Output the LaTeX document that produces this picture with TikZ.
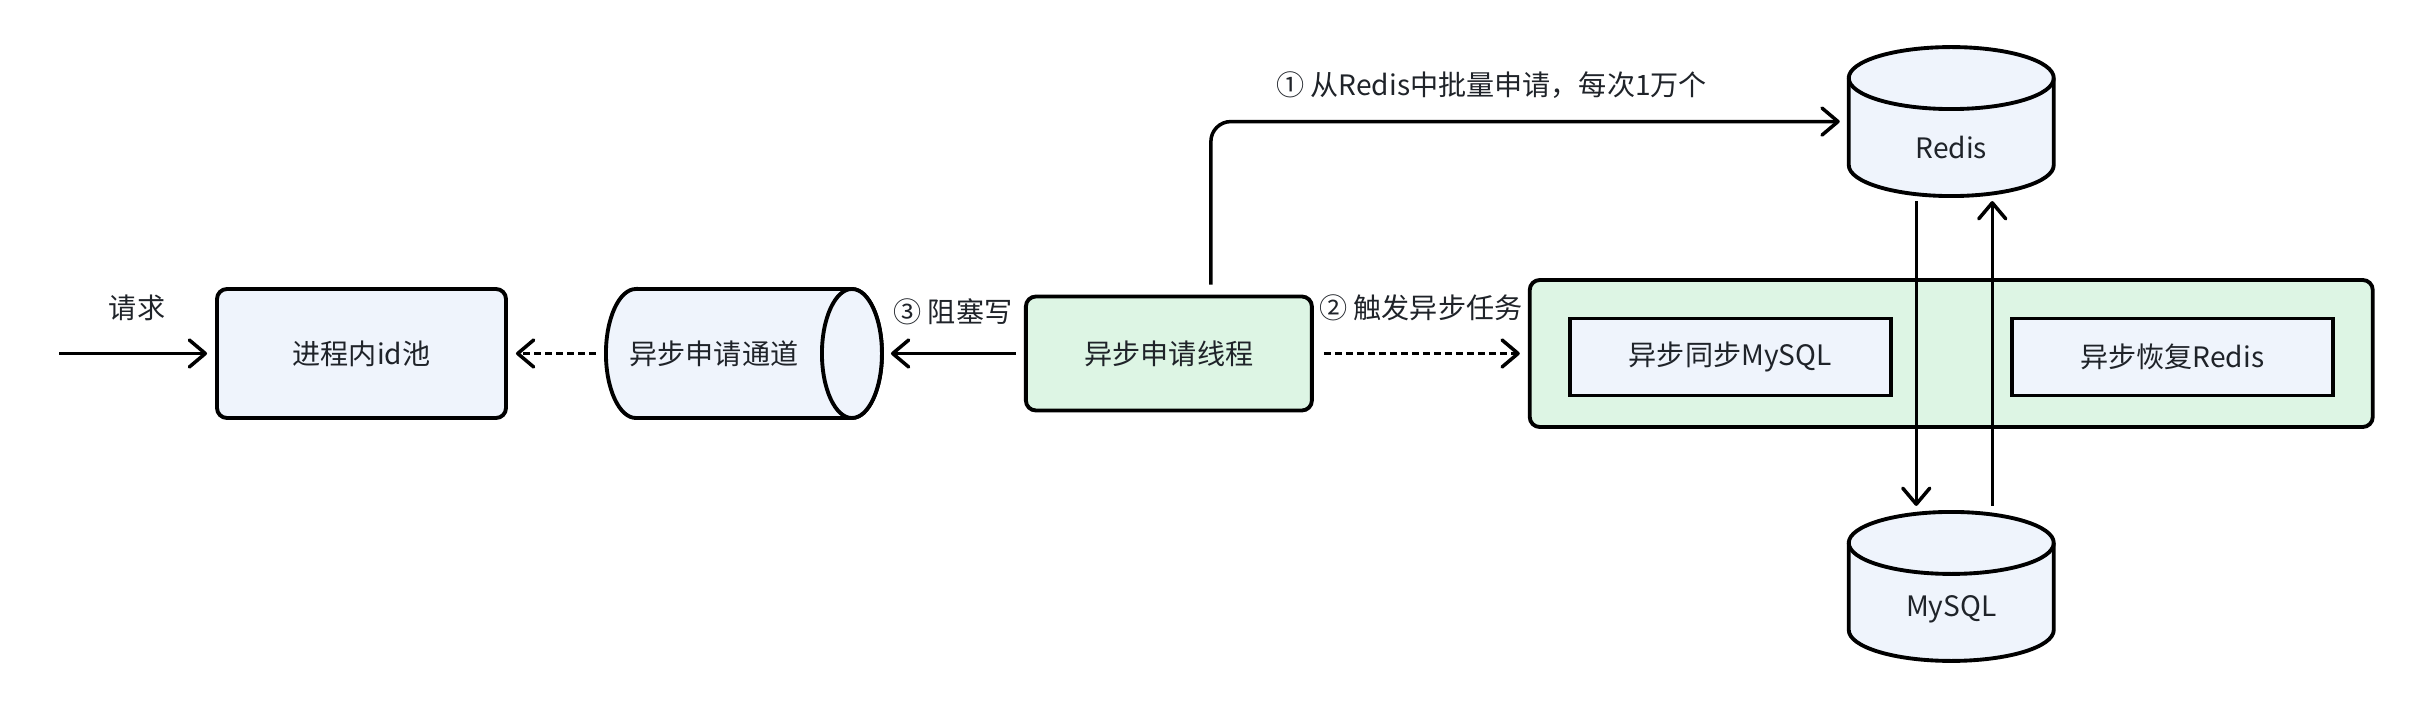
\documentclass[tikz,border=0pt]{standalone}
\usepackage{fontspec}
\newfontfamily\cjk{Noto Sans CJK SC}
\usepackage{tikz}
\usetikzlibrary{arrows.meta,positioning,backgrounds}

\definecolor{bluefill}{RGB}{239,244,252}
\definecolor{greenfill}{RGB}{221,245,228}
\definecolor{textgray}{RGB}{31,35,41}

% vertical database cylinder round a node
\newcommand{\drawdb}[1]{%
  \draw[-, line width=1.1pt, fill=bluefill] ([yshift=-0.31cm]#1.north west) -- ([yshift=0.31cm]#1.south west)
    arc[start angle=180, end angle=360, x radius=1.025cm, y radius=0.31cm]
    -- ([yshift=-0.31cm]#1.north east)
    arc[start angle=0, end angle=180, x radius=1.025cm, y radius=0.31cm] -- cycle;
  \draw[-, line width=1.1pt] ([yshift=-0.31cm]#1.north west)
    arc[start angle=180, end angle=360, x radius=1.025cm, y radius=0.31cm];}
% horizontal pipe round a node
\newcommand{\drawpipe}[1]{%
  \draw[-, line width=1.1pt, fill=bluefill] ([xshift=0.3cm]#1.north west) -- ([xshift=-0.3cm]#1.north east)
    arc[start angle=90, end angle=-90, x radius=0.3cm, y radius=0.645cm]
    -- ([xshift=0.3cm]#1.south west)
    arc[start angle=270, end angle=90, x radius=0.3cm, y radius=0.645cm] -- cycle;
  \draw[-, line width=1.1pt, fill=bluefill] ([xshift=-0.3cm]#1.east) ellipse[x radius=0.3cm, y radius=0.645cm];}

\begin{document}
\begin{tikzpicture}[-{Straight Barb[length=0.16cm,width=0.27cm,round]}, line width=1pt,
  every node/.style={font=\cjk\fontsize{8pt}{9.6pt}\selectfont, text=textgray}]
\tikzstyle{box}=[draw=black, fill=bluefill, line width=1.1pt, rounded corners=0.1cm, minimum width=2.89cm, minimum height=1.29cm]
\tikzstyle{thread}=[box, fill=greenfill, minimum width=2.86cm, minimum height=1.14cm]
\tikzstyle{tasks}=[box, fill=greenfill, minimum width=8.43cm, minimum height=1.47cm]
\tikzstyle{job}=[box, rounded corners=0, minimum width=3.21cm, minimum height=0.77cm, yshift=-0.035cm]
\tikzstyle{db}=[draw=none, outer sep=0, minimum width=2.05cm, minimum height=1.49cm]
\tikzstyle{pipe}=[draw=none, outer sep=0, minimum width=2.76cm, minimum height=1.29cm]
\tikzstyle{dashline}=[dash pattern=on 0.07cm off 0.04cm]
\useasboundingbox (0,0) rectangle (24.26,7.10);

\node[box]    (pool) at (3.615,3.565) {进程内id池};
\node[pipe]   (chan)[right=0.98cm of pool, label={[xshift=-0.3cm]center:异步申请通道}] {};
\node[thread] (worker)[right=1.42cm of chan] {异步申请线程};
\node[tasks]  (tasks)[right=2.14cm of worker] {};
\node[job]    (syncdb)[right=0.4cm of tasks.west] {异步同步MySQL};
\node[job]    (recover)[left=0.4cm of tasks.east] {异步恢复Redis};
\node[db]     (redis)[above=0.82cm of tasks, label={[yshift=-0.255cm]center:Redis}] {};
\node[db]     (mysql)[below=0.83cm of tasks, label={[yshift=-0.225cm]center:MySQL}] {};
\coordinate   (req) at (0.59,3.565);

\begin{scope}[on background layer]
\drawpipe{chan}
\drawdb{redis}
\drawdb{mysql}
\end{scope}

\draw[shorten >=0.08cm] (req) -- node[above=0.19cm]{请求} (pool);
\draw[dashline, shorten <=0.1cm, shorten >=0.08cm] (chan) -- (pool);
\draw[shorten <=0.08cm, shorten >=0.09cm] (worker) -- node[above=0.15cm]{③ 阻塞写} (chan);
\draw[dashline, shorten <=0.1cm, shorten >=0.08cm] (worker) -- node[above=0.19cm]{② 触发异步任务} (tasks);
\draw[rounded corners=0.2cm, shorten <=0.1cm, shorten >=0.09cm] ([xshift=0.42cm]worker.north)
  |- node[pos=0.72, above=0.1cm]{① 从Redis中批量申请，每次1万个} (redis.west);
\draw[shorten <=0.05cm, shorten >=0.06cm] ([xshift=-0.35cm]redis.south) -- ([xshift=-0.35cm]mysql.north);
\draw[shorten <=0.06cm, shorten >=0.05cm] ([xshift=0.41cm]mysql.north) -- ([xshift=0.41cm]redis.south);
\end{tikzpicture}
\end{document}
